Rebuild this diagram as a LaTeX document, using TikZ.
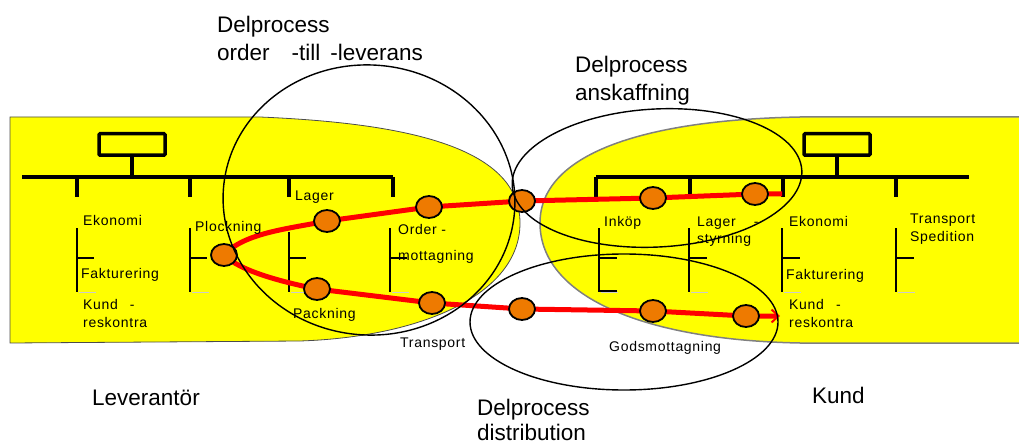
\documentclass[tikz,border=0pt]{standalone}
\usepackage{fontspec}
\setmainfont{Liberation Sans}
\newfontfamily\lblfont[LetterSpace=5]{Liberation Sans}
\usepackage{tikz}
\usetikzlibrary{arrows.meta,positioning,calc,shapes.geometric,backgrounds}

\definecolor{areayellow}{RGB}{255,255,0}
\definecolor{dotorange}{RGB}{238,122,0}
\definecolor{flowred}{RGB}{255,0,0}

\begin{document}
\begin{tikzpicture}[x=1pt, y=1pt,
  lbl/.style={inner sep=0, anchor=base west, font=\lblfont\fontsize{14}{17}\selectfont},
  big/.style={inner sep=0, anchor=base west, font=\fontsize{22.5}{28}\selectfont},
  dot/.style={ellipse, draw, line width=1.8pt, fill=dotorange, minimum width=26pt, minimum height=22pt, inner sep=0},
  flow/.style={draw=flowred, line width=5pt, line join=round},
  proc/.style={draw, line width=1.4pt},
  bus/.style={line width=4pt},
  stub/.style={line width=2pt},
  head/.style={draw, line width=3.5pt, rounded corners=1pt, minimum width=66pt, minimum height=21.5pt, inner sep=0}]
\useasboundingbox (0,0) rectangle (1019,445);

% orange points along the flow
\foreach \name/\x/\y in {d1/224/190,d2/327/224,d3/429/238,d4/522/244,d5/653/247,d6/755/251,
                         e1/317/156,e2/432/142,e3/522/136,e4/653/134,e5/746/129} {
  \node[dot] (\name) at (\x,\y) {};
}
\coordinate (uend) at (782,251);
\coordinate (ltip) at (780,129);

\begin{scope}[on background layer]
% supplier and customer areas
\filldraw[fill=areayellow, draw=black!70, line width=0.8pt]
  (10,328) -- (260,328) .. controls (400,322) and (520,300) .. (520,222)
  .. controls (520,150) and (420,108) .. (300,104) -- (10,102) -- cycle;
\fill[areayellow] (1019,328) -- (800,328) .. controls (640,325) and (540,290) .. (540,222)
  .. controls (540,150) and (640,105) .. (800,102) -- (1019,102) -- cycle;
\draw[black!50, line width=1.5pt] (1019,328) -- (800,328) .. controls (640,325) and (540,290) .. (540,222)
  .. controls (540,150) and (640,105) .. (800,102) -- (1019,102);

% org chart, supplier
\node[head] (headL) at (132,300.5) {};
\draw[line width=3.5pt] (headL.south) -- (headL.south |- 0,268);
\draw[bus] (22,268) -- (393,268);
\foreach \x in {77,190,289,393} \draw[bus] (\x,268) -- (\x,248);
\foreach \x/\t in {77/217,190/217,289/213,390/217} {
  \draw[stub] (\x,\t) -- (\x,153) (\x,187) -- ++(17,0);
  \draw[black!20, line width=0.6pt] (\x+2,153) -- ++(17,0);
}

% org chart, customer
\node[head] (headR) at (837,300.5) {};
\draw[line width=3.5pt] (headR.south) -- (headR.south |- 0,268);
\draw[bus] (596,268) -- (969,268);
\foreach \x in {596,690,783,896} \draw[bus] (\x,268) -- (\x,248);
\foreach \x in {599,689,782,896} {
  \draw[stub] (\x,217) -- (\x,153) (\x,187) -- ++(18,0);
  \draw[black!20, line width=0.6pt] (\x+2,153) -- ++(17,0);
}
\draw[stub] (600,154) -- (617,154);

% order and delivery flow
\draw[flow] (d1.center) .. controls +(20,22) and +(-40,-8) .. (d2.center)
  -- (d3.center) -- (d4.center) -- (d5.center) -- (d6.center) -- (uend);
\draw[flow, -{Straight Barb[length=7pt,width=13pt,line width=2pt]}]
  (d1.center) .. controls +(15,-15) and +(-40,8) .. (e1.center)
  -- (e2.center) -- (e3.center) -- (e4.center) -- (e5.center) -- (ltip);
\end{scope}

% sub-processes
\draw[proc, rotate around={-5:(369,245)}] (369,245) ellipse [x radius=146pt, y radius=135pt];
\draw[proc, rotate around={3:(657,267)}] (657,267) ellipse [x radius=145pt, y radius=69pt];
\draw[proc] (624,123) ellipse [x radius=154pt, y radius=68pt];

\node[big] (otlA) at (217,412) {Delprocess};
\node[big] (otlB) at (217,384) {order\hspace{22pt}-till\hspace{10pt}-leverans};
\node[big] (ansA) at (575,372) {Delprocess};
\node[big] (ansB) at (575,344) {anskaffning};
\node[big] (disA) at (477,30) {Delprocess};
\node[big] (disB) at (477,5) {distribution};
\node[big] (lev) at (92,40) {Leverantör};
\node[big] (kund) at (812,42) {Kund};

\foreach \name/\x/\y/\txt in {ekL/83/220/Ekonomi, fakL/81/167/Fakturering,
    kuL/83/136/Kund\hspace{12pt}-, resL/83/118/reskontra, plo/195/214/Plockning,
    lag/295/244/Lager, ordA/398/211/Order -, ordB/398/185/mottagning,
    pac/293/127/Packning, tra/400/98/Transport,
    ink/604/219/Inköp, lsA/697/219/Lager\hspace{18pt}-, lsB/697/202/styrning,
    ekR/789/219/Ekonomi, tsA/910/222/Transport, tsB/910/204/Spedition,
    fakR/786/166/Fakturering, kuR/789/136/Kund\hspace{12pt}-, resR/789/118/reskontra,
    gods/609/94/Godsmottagning} {
  \node[lbl] (\name) at (\x,\y) {\txt};
}
\end{tikzpicture}
\end{document}
